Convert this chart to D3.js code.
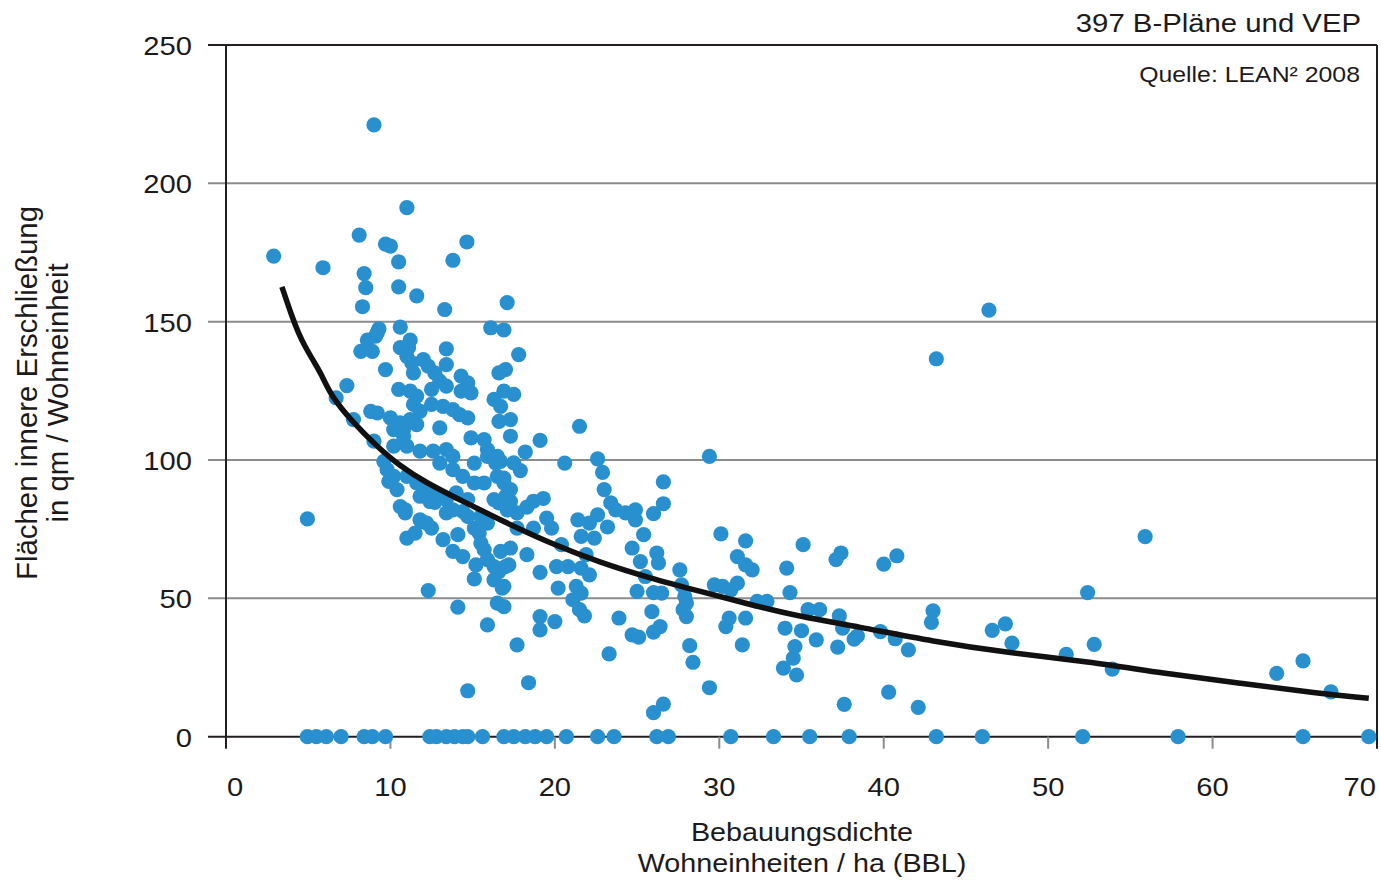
<!DOCTYPE html>
<html>
<head>
<meta charset="utf-8">
<script src="https://cdn.jsdelivr.net/npm/d3@7"></script>
<style>
body { margin: 0; background: #fff; }
text { font-family: "Liberation Sans", Arial, sans-serif; fill: #1c1a1b; }
</style>
</head>
<body>
<svg width="1381" height="883"></svg>
<script>
// axis ticks
var xTicks = [0, 10, 20, 30, 40, 50, 60, 70];
var yTicks = [0, 50, 100, 150, 200, 250];

// plans with no inner access area (sit on the x axis)
var zeroRow = [4.95, 5.5, 6.1, 7.0, 8.4, 8.9, 9.7, 12.4, 12.8, 13.4, 13.9, 14.4, 14.7, 15.6,
    16.9, 17.5, 18.2, 18.8, 19.5, 20.7, 22.6, 23.6, 26.2, 26.9, 30.7, 33.3, 35.5, 37.9,
    43.2, 46.0, 52.1, 57.9, 65.5, 69.5];

// density (WE/ha), area per unit (qm/WE)
var points = [
    [9.0, 221.1], [11.0, 191.2], [2.9, 173.7], [5.9, 169.5], [8.1, 181.3], [9.7, 178], [10.0, 177.3],
    [14.65, 178.8], [10.5, 171.6], [13.8, 172.2], [8.4, 167.4], [8.5, 162.3], [10.5, 162.6], [11.6, 159.3],
    [8.3, 155.4], [13.3, 154.4], [17.1, 156.9], [16.1, 147.8], [16.9, 147], [10.6, 148], [9.3, 147.4],
    [9.1, 144.8], [8.6, 143.3], [8.2, 139.3], [8.9, 139.3], [10.6, 140.6], [11.2, 143.3], [11.1, 140.6],
    [13.4, 140.2], [9.2, 146],
    [11.0, 137.5], [11.3, 135.1], [11.4, 131.5], [9.7, 132.7], [12.0, 136.3], [12.3, 133.9], [12.7, 131.5],
    [13.0, 128.5], [13.4, 134.5], [14.3, 130.3], [14.7, 127.9], [14.9, 124.3], [10.5, 125.5], [11.2, 124.9],
    [11.6, 123.1], [11.4, 120.1], [11.8, 117.6], [12.5, 125.5], [13.4, 126.7], [12.5, 120.1], [8.8, 117.6],
    [9.2, 117], [10.0, 115.2], [10.6, 113.4], [10.2, 111], [10.8, 111], [10.8, 108.6], [11.2, 114.6],
    [11.6, 112.8], [13.0, 111.6], [13.2, 119.4], [13.8, 118.2], [14.2, 116.4], [14.7, 115.2], [14.3, 124.9],
    [14.9, 108], [15.7, 107.4], [15.9, 103.8], [16.5, 101.3], [16.4, 99], [17.0, 132.7], [16.6, 131.5],
    [16.9, 124.9], [17.5, 123.7], [16.3, 121.9], [16.7, 119.4], [16.6, 114], [17.3, 114.6], [17.3, 108.6],
    [17.8, 138.1], [10.2, 105], [11.0, 105], [11.8, 103.2], [12.6, 103.2], [13.4, 103.8], [13.8, 101.3],
    [9.0, 106.8], [9.6, 99.5], [9.8, 96.5], [10.2, 94.1], [9.9, 92.3], [10.4, 89.3],
    [11.0, 94.1], [11.6, 91.7], [12.2, 89.3], [12.8, 86.9], [13.4, 85.7], [11.8, 86.9], [12.4, 85],
    [10.6, 83.2], [10.9, 80.9], [11.8, 78.4], [12.2, 77.2],
    [13.0, 98.9], [13.8, 96.5], [14.4, 94.1], [15.1, 91.7], [15.7, 91.7], [15.1, 98.9], [15.9, 101.3],
    [16.5, 94.1], [16.9, 91.7], [17.3, 89.3], [17.0, 86.9], [16.3, 85.7],
    [14.0, 88.1], [14.7, 85.7], [13.8, 82], [14.4, 81.4], [13.4, 80.9], [14.7, 79.6],
    [17.7, 80.9], [17.1, 82], [15.5, 79.6], [15.9, 77.2], [7.35, 126.9], [6.7, 122.5], [7.75, 114.6],
    [4.95, 78.7], [10.9, 82], [11.9, 77.8], [12.5, 75.4], [11.0, 71.8], [11.5, 73.6], [12.7, 84.7],
    [13.2, 71.2], [13.8, 67], [14.1, 73], [14.4, 65.1], [15.1, 75.4], [15.4, 73.6], [15.2, 62.1], [15.1, 57],
    [12.3, 52.8], [14.1, 46.8], [15.9, 40.4], [14.7, 16.6], [15.5, 70], [15.7, 67.6], [15.9, 64], [16.3, 61.5],
    [16.6, 59.7], [16.3, 56.7], [16.8, 53.7], [16.5, 48.3], [16.9, 47], [17.2, 62.1], [17.3, 68.2], [16.7, 67],
    [16.6, 84.5], [17.3, 85], [17.7, 75.4], [17.7, 33.2],
    [21.5, 112.2], [19.1, 107.1], [29.4, 101.3], [20.6, 98.9], [18.2, 102.9], [22.6, 100.4], [22.9, 95.5],
    [23.0, 89.3], [17.9, 96.2], [26.6, 92.1], [26.6, 84.2], [26.0, 80.6], [16.9, 93.5], [19.3, 86.1],
    [18.7, 85.1], [18.3, 83], [23.4, 84.5], [23.7, 82], [24.3, 80.9], [24.9, 82], [24.9, 78.4], [22.6, 80.2],
    [22.1, 77.2], [21.4, 78.4], [23.2, 75.8], [25.4, 73], [19.5, 79], [19.8, 75.4], [21.6, 72.4], [22.4, 71.8],
    [18.7, 75.4], [20.4, 69.4], [18.3, 65.8], [24.7, 68.2], [25.2, 63.3], [26.2, 66.4], [26.3, 62.8],
    [21.9, 65.8], [21.6, 60.9], [22.1, 58.5], [21.3, 54.3], [21.6, 51.9], [21.1, 49.5], [21.5, 45.9],
    [21.8, 43.7], [20.1, 61.5], [20.8, 61.5], [19.1, 59.4], [20.2, 53.7], [25.5, 57.9], [25.0, 52.5],
    [26.0, 52.1], [26.5, 51.9], [27.6, 60.3], [27.7, 54.9], [27.9, 50.7], [28.0, 48.3], [27.8, 45.9],
    [28.0, 43.4], [30.1, 73.3], [31.6, 70.8], [31.1, 65.1], [31.6, 62.1], [32.0, 60.3], [29.7, 54.9],
    [30.2, 54.3], [30.7, 53.1], [31.1, 55.5], [32.3, 48.9], [32.9, 48.9], [34.1, 60.9], [34.3, 52.1],
    [30.6, 42.9], [30.4, 39.8], [31.6, 42.9], [31.4, 33.2], [34.0, 39.2], [33.9, 24.8], [34.6, 32.6],
    [34.5, 28.4], [34.7, 22.3], [25.9, 45.2], [26.4, 39.8], [26.0, 37.8], [24.7, 36.8], [25.1, 36],
    [23.9, 42.9], [20.0, 41.6], [19.1, 43.4], [19.1, 38.6], [18.4, 19.5], [23.3, 29.9], [28.2, 32.9],
    [28.4, 26.9], [29.4, 17.7], [26.0, 8.7], [26.6, 11.8], [16.7, 99.5], [17.0, 61.5], [16.9, 54.3],
    [17.5, 99],
    [46.4, 154.2], [43.2, 136.6], [55.9, 72.3], [52.4, 52.1], [47.4, 40.8], [46.6, 38.4], [47.8, 33.8],
    [52.8, 33.4], [51.1, 29.8], [53.9, 24.4], [63.9, 22.9], [65.5, 27.4], [67.2, 16.2], [43.0, 45.5],
    [42.9, 41.3], [42.1, 10.6], [40.3, 16.1], [37.6, 11.7], [41.5, 31.4], [40.7, 35.4], [39.8, 38],
    [40.8, 65.4], [40.0, 62.4], [37.1, 64], [37.4, 66.4], [35.1, 69.4], [35.4, 45.9], [36.1, 45.9],
    [37.3, 43.7], [37.5, 39.2], [38.2, 35.3], [38.4, 36.4], [35.0, 38.3], [35.9, 35], [37.2, 32.4]
];

// trend curve
var trendLine = [
    [3.4, 162.6], [4.0, 152], [4.4, 146], [4.8, 141], [5.4, 135], [5.8, 131], [6.4, 123], [7.75, 113.4],
    [9.17, 105], [10.6, 97.7], [12.2, 91.7], [14.2, 85.7], [16.3, 79.5], [17.7, 75.5], [19.7, 70],
    [22.8, 62.8], [25.8, 57.3], [28.85, 52.5], [31.9, 47.7], [34.9, 43.4], [38.4, 39.8], [43, 34.4],
    [47.7, 30.2], [52.4, 27.2], [57, 22.9], [61.7, 19.3], [66.4, 15.7], [69.5, 13.9]
];

var svg = d3.select("svg");
var x = d3.scaleLinear().domain([0, 70]).range([226, 1377]);
var y = d3.scaleLinear().domain([0, 250]).range([736.7, 45]);

var gridColor = "#8c8c8c", axisColor = "#231f20", dotColor = "#2990cf";

// horizontal grid lines
svg.selectAll("line.grid")
    .data(yTicks.filter(function(d) { return d > 0 && d < 250; }))
    .enter()
    .append("line")
    .attr("class", "grid")
    .attr("x1", x(0) - 18)
    .attr("x2", x(70))
    .attr("y1", function(d) { return y(d); })
    .attr("y2", function(d) { return y(d); })
    .style("stroke", gridColor)
    .style("stroke-width", 2);

// frame: top, right, left and bottom axis lines
svg.append("line")
    .attr("x1", x(0) - 18).attr("x2", x(70))
    .attr("y1", y(250)).attr("y2", y(250))
    .style("stroke", axisColor).style("stroke-width", 2);
svg.append("line")
    .attr("x1", x(70)).attr("x2", x(70))
    .attr("y1", y(250)).attr("y2", y(0) + 12)
    .style("stroke", axisColor).style("stroke-width", 2);
svg.append("line")
    .attr("x1", x(0)).attr("x2", x(0))
    .attr("y1", y(250)).attr("y2", y(0) + 12)
    .style("stroke", axisColor).style("stroke-width", 2);
svg.append("line")
    .attr("x1", x(0) - 18).attr("x2", x(70))
    .attr("y1", y(0)).attr("y2", y(0))
    .style("stroke", axisColor).style("stroke-width", 2);

// x tick marks
svg.selectAll("line.xtick")
    .data(xTicks.filter(function(d) { return d > 0 && d < 70; }))
    .enter()
    .append("line")
    .attr("class", "xtick")
    .attr("x1", function(d) { return x(d); })
    .attr("x2", function(d) { return x(d); })
    .attr("y1", y(0))
    .attr("y2", y(0) + 12)
    .style("stroke", gridColor)
    .style("stroke-width", 2);

// tick labels
svg.selectAll("text.xlabel")
    .data(xTicks)
    .enter()
    .append("text")
    .attr("class", "xlabel")
    .attr("transform", function(d) {
        var dx = d === 0 ? 1 : (d === 70 ? -1 : 0);
        return "translate(" + (x(d) + dx) + ",796) scale(1.1,1)";
    })
    .style("text-anchor", function(d) {
        return d === 0 ? "start" : (d === 70 ? "end" : "middle");
    })
    .style("font-size", "26.5px")
    .text(function(d) { return d; });

svg.selectAll("text.ylabel")
    .data(yTicks)
    .enter()
    .append("text")
    .attr("class", "ylabel")
    .attr("transform", function(d) {
        return "translate(192," + (y(d) + 10) + ") scale(1.1,1)";
    })
    .style("text-anchor", "end")
    .style("font-size", "26.5px")
    .text(function(d) { return d; });

// dots
var allPoints = points.concat(zeroRow.map(function(v) { return [v, 0]; }));
svg.selectAll("circle")
    .data(allPoints)
    .enter()
    .append("circle")
    .attr("cx", function(d) { return x(d[0]); })
    .attr("cy", function(d) { return y(d[1]); })
    .attr("r", 7.6)
    .style("fill", dotColor);

// trend line
var line = d3.line()
    .x(function(d) { return x(d[0]); })
    .y(function(d) { return y(d[1]); })
    .curve(d3.curveBasis);
svg.append("path")
    .datum(trendLine)
    .attr("d", line)
    .style("fill", "none")
    .style("stroke", "#111")
    .style("stroke-width", 5.5);

// axis titles
var xTitle = svg.append("text")
    .attr("transform", "translate(802,0) scale(1.15,1)")
    .style("text-anchor", "middle")
    .style("font-size", "25px");
xTitle.append("tspan").attr("x", 0).attr("y", 841.5).text("Bebauungsdichte");
xTitle.append("tspan").attr("x", 0).attr("y", 872.5).text("Wohneinheiten / ha (BBL)");

var yTitle = svg.append("text")
    .attr("transform", "translate(0,393) rotate(-90)")
    .style("text-anchor", "middle")
    .style("font-size", "29.4px");
yTitle.append("tspan").attr("x", 0).attr("y", 37).text("Flächen innere Erschließung");
yTitle.append("tspan").attr("x", 0).attr("y", 68).text("in qm / Wohneinheit");

// header notes
svg.append("text")
    .attr("transform", "translate(1361,31.5) scale(1.15,1)")
    .style("text-anchor", "end")
    .style("font-size", "25.5px")
    .text("397 B-Pläne und VEP");
svg.append("text")
    .attr("transform", "translate(1360,82) scale(1.15,1)")
    .style("text-anchor", "end")
    .style("font-size", "21.6px")
    .text("Quelle: LEAN² 2008");
</script>
</body>
</html>
